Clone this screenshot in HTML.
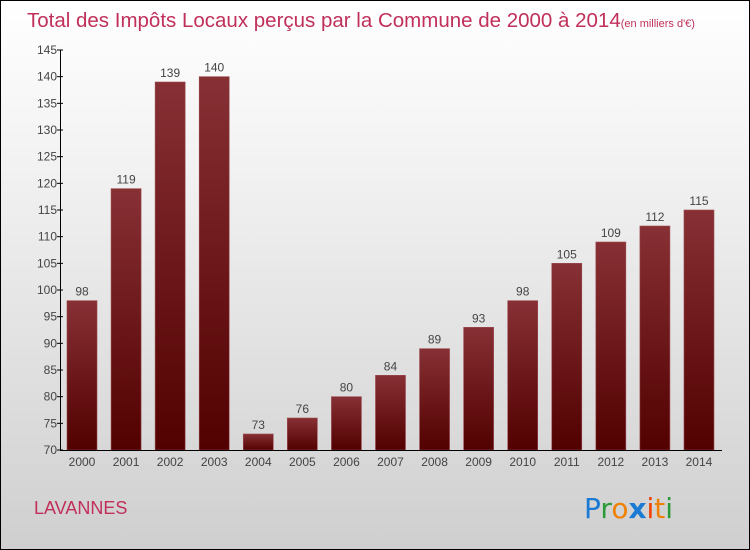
<!DOCTYPE html>
<html><head><meta charset="utf-8"><style>
body{margin:0}
#c{position:relative;width:748px;height:548px;border:1px solid #000;background:linear-gradient(#fff,#f2f2f2 30%,#cfcfcf);font-family:"Liberation Sans",sans-serif;overflow:hidden}
</style></head><body>
<div id="c">
<svg id="s" width="748" height="548" style="position:absolute;left:0;top:0">
<defs><linearGradient id="g" x1="0" y1="0" x2="0" y2="1"><stop offset="0" stop-color="#873035"/><stop offset="1" stop-color="#520000"/></linearGradient></defs>
<text x="26" y="26" font-size="20.5" fill="#c0305a">Total des Impôts Locaux perçus par la Commune de 2000 à 2014<tspan font-size="11">(en milliers d'€)</tspan></text>
<text x="33" y="513" font-size="18" fill="#c0305a">LAVANNES</text>
<g font-size="28" font-family="DejaVu Sans,sans-serif">
<text x="583" y="517" fill="#1a7ad4">P<tspan fill="#2a9a3a">r</tspan><tspan fill="#f08000">o</tspan><tspan fill="#1a7ad4" font-weight="bold">x</tspan><tspan fill="#f04000">i</tspan><tspan fill="#f08000">t</tspan><tspan fill="#2a9a3a">i</tspan></text>
</g>
<g id="plot"></g>
</svg>
</div>
<script>
const categories=["2000","2001","2002","2003","2004","2005","2006","2007","2008","2009","2010","2011","2012","2013","2014"];
const values=[98,119,139,140,73,76,80,84,89,93,98,105,109,112,115];
const yTicks=[70,75,80,85,90,95,100,105,110,115,120,125,130,135,140,145];
const yMin=70,yMax=145,y0=449,y1=49;
const y=v=>y0-(v-yMin)/(yMax-yMin)*(y0-y1);
const x=i=>81+i*44.07;
const ns="http://www.w3.org/2000/svg",p=document.getElementById('plot');
function mk(t,a,txt){const e=document.createElementNS(ns,t);for(const k in a)e.setAttribute(k,a[k]);if(txt!=null)e.textContent=txt;p.appendChild(e);return e;}
values.forEach((v,i)=>{
 const b=mk('rect',{x:x(i)-15,y:y(v),width:30,height:y0-y(v),fill:'url(#g)',stroke:'#9a4a4f','stroke-width':0.6});
 
 
 const l=mk('text',{x:x(i),y:y(v)-5,'text-anchor':'middle','font-size':12,fill:'#444'},v);
 
 
 const c=mk('text',{x:x(i),y:y0+16,'text-anchor':'middle','font-size':12,fill:'#444'},categories[i]);
 
 
});
yTicks.forEach(t=>{
 mk('line',{x1:56,x2:62,y1:y(t),y2:y(t),stroke:'#000'});
 const l=mk('text',{x:56,y:y(t)+4,'text-anchor':'end','font-size':12,fill:'#444'},t);
 
 
});
const ya=mk('line',{x1:59.5,x2:59.5,y1:y1,y2:y0,stroke:'#000'});


const xa=mk('line',{x1:59,x2:721,y1:y0+0.5,y2:y0+0.5,stroke:'#000'});


</script>
</body></html>
